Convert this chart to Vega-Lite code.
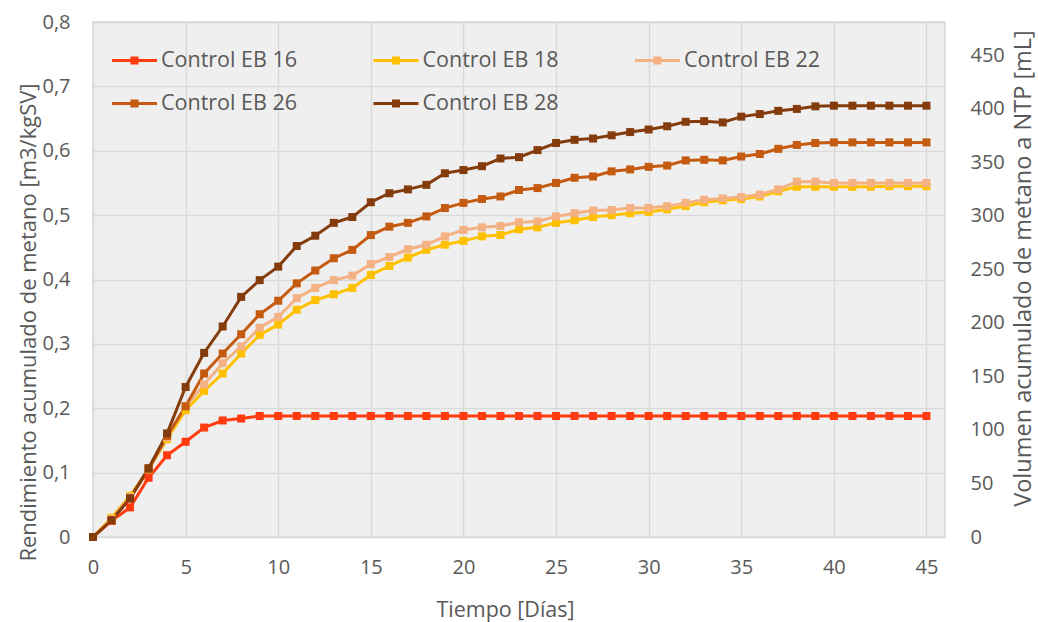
{
  "$schema": "https://vega.github.io/schema/vega-lite/v6.json",
  "width": 852,
  "height": 515,
  "autosize": {"type": "none"},
  "padding": {"left": 93, "top": 22, "right": 93, "bottom": 85},
  "background": "white",
  "config": {
    "font": "Open Sans",
    "view": {"fill": "#efefef", "stroke": "#d9d9d9", "strokeWidth": 1.5},
    "axis": {
      "labelColor": "#595959",
      "titleColor": "#595959",
      "labelFontSize": 20,
      "titleFontSize": 21.5,
      "titleFontWeight": "normal",
      "labelFlush": false,
      "domain": false,
      "ticks": false,
      "gridColor": "#d9d9d9",
      "gridWidth": 1.5
    },
    "legend": {
      "labelColor": "#595959",
      "labelFontSize": 21.5,
      "labelFont": "Open Sans"
    }
  },
  "data": {
    "values": [
      {"dia": 0, "Control EB 16": 0, "Control EB 18": 0, "Control EB 22": 0, "Control EB 26": 0, "Control EB 28": 0},
      {"dia": 1, "Control EB 16": 0.025, "Control EB 18": 0.030, "Control EB 22": 0.028, "Control EB 26": 0.026, "Control EB 28": 0.026},
      {"dia": 2, "Control EB 16": 0.046, "Control EB 18": 0.064, "Control EB 22": 0.062, "Control EB 26": 0.060, "Control EB 28": 0.060},
      {"dia": 3, "Control EB 16": 0.092, "Control EB 18": 0.105, "Control EB 22": 0.105, "Control EB 26": 0.105, "Control EB 28": 0.107},
      {"dia": 4, "Control EB 16": 0.127, "Control EB 18": 0.152, "Control EB 22": 0.155, "Control EB 26": 0.157, "Control EB 28": 0.161},
      {"dia": 5, "Control EB 16": 0.148, "Control EB 18": 0.197, "Control EB 22": 0.203, "Control EB 26": 0.203, "Control EB 28": 0.233},
      {"dia": 6, "Control EB 16": 0.170, "Control EB 18": 0.227, "Control EB 22": 0.237, "Control EB 26": 0.254, "Control EB 28": 0.286},
      {"dia": 7, "Control EB 16": 0.181, "Control EB 18": 0.254, "Control EB 22": 0.270, "Control EB 26": 0.285, "Control EB 28": 0.327},
      {"dia": 8, "Control EB 16": 0.184, "Control EB 18": 0.285, "Control EB 22": 0.296, "Control EB 26": 0.315, "Control EB 28": 0.373},
      {"dia": 9, "Control EB 16": 0.188, "Control EB 18": 0.314, "Control EB 22": 0.325, "Control EB 26": 0.346, "Control EB 28": 0.399},
      {"dia": 10, "Control EB 16": 0.188, "Control EB 18": 0.330, "Control EB 22": 0.342, "Control EB 26": 0.367, "Control EB 28": 0.420},
      {"dia": 11, "Control EB 16": 0.188, "Control EB 18": 0.353, "Control EB 22": 0.371, "Control EB 26": 0.394, "Control EB 28": 0.452},
      {"dia": 12, "Control EB 16": 0.188, "Control EB 18": 0.368, "Control EB 22": 0.387, "Control EB 26": 0.414, "Control EB 28": 0.468},
      {"dia": 13, "Control EB 16": 0.188, "Control EB 18": 0.377, "Control EB 22": 0.399, "Control EB 26": 0.433, "Control EB 28": 0.488},
      {"dia": 14, "Control EB 16": 0.188, "Control EB 18": 0.387, "Control EB 22": 0.406, "Control EB 26": 0.446, "Control EB 28": 0.497},
      {"dia": 15, "Control EB 16": 0.188, "Control EB 18": 0.407, "Control EB 22": 0.424, "Control EB 26": 0.469, "Control EB 28": 0.520},
      {"dia": 16, "Control EB 16": 0.188, "Control EB 18": 0.421, "Control EB 22": 0.435, "Control EB 26": 0.482, "Control EB 28": 0.534},
      {"dia": 17, "Control EB 16": 0.188, "Control EB 18": 0.434, "Control EB 22": 0.447, "Control EB 26": 0.488, "Control EB 28": 0.540},
      {"dia": 18, "Control EB 16": 0.188, "Control EB 18": 0.446, "Control EB 22": 0.454, "Control EB 26": 0.498, "Control EB 28": 0.547},
      {"dia": 19, "Control EB 16": 0.188, "Control EB 18": 0.454, "Control EB 22": 0.467, "Control EB 26": 0.511, "Control EB 28": 0.565},
      {"dia": 20, "Control EB 16": 0.188, "Control EB 18": 0.460, "Control EB 22": 0.477, "Control EB 26": 0.519, "Control EB 28": 0.570},
      {"dia": 21, "Control EB 16": 0.188, "Control EB 18": 0.467, "Control EB 22": 0.481, "Control EB 26": 0.525, "Control EB 28": 0.576},
      {"dia": 22, "Control EB 16": 0.188, "Control EB 18": 0.469, "Control EB 22": 0.483, "Control EB 26": 0.529, "Control EB 28": 0.588},
      {"dia": 23, "Control EB 16": 0.188, "Control EB 18": 0.478, "Control EB 22": 0.489, "Control EB 26": 0.539, "Control EB 28": 0.590},
      {"dia": 24, "Control EB 16": 0.188, "Control EB 18": 0.481, "Control EB 22": 0.490, "Control EB 26": 0.542, "Control EB 28": 0.601},
      {"dia": 25, "Control EB 16": 0.188, "Control EB 18": 0.488, "Control EB 22": 0.498, "Control EB 26": 0.550, "Control EB 28": 0.612},
      {"dia": 26, "Control EB 16": 0.188, "Control EB 18": 0.492, "Control EB 22": 0.503, "Control EB 26": 0.558, "Control EB 28": 0.617},
      {"dia": 27, "Control EB 16": 0.188, "Control EB 18": 0.497, "Control EB 22": 0.507, "Control EB 26": 0.560, "Control EB 28": 0.619},
      {"dia": 28, "Control EB 16": 0.188, "Control EB 18": 0.500, "Control EB 22": 0.508, "Control EB 26": 0.568, "Control EB 28": 0.624},
      {"dia": 29, "Control EB 16": 0.188, "Control EB 18": 0.503, "Control EB 22": 0.511, "Control EB 26": 0.571, "Control EB 28": 0.629},
      {"dia": 30, "Control EB 16": 0.188, "Control EB 18": 0.505, "Control EB 22": 0.511, "Control EB 26": 0.575, "Control EB 28": 0.633},
      {"dia": 31, "Control EB 16": 0.188, "Control EB 18": 0.509, "Control EB 22": 0.514, "Control EB 26": 0.577, "Control EB 28": 0.638},
      {"dia": 32, "Control EB 16": 0.188, "Control EB 18": 0.514, "Control EB 22": 0.519, "Control EB 26": 0.585, "Control EB 28": 0.645},
      {"dia": 33, "Control EB 16": 0.188, "Control EB 18": 0.520, "Control EB 22": 0.524, "Control EB 26": 0.586, "Control EB 28": 0.646},
      {"dia": 34, "Control EB 16": 0.188, "Control EB 18": 0.523, "Control EB 22": 0.526, "Control EB 26": 0.585, "Control EB 28": 0.644},
      {"dia": 35, "Control EB 16": 0.188, "Control EB 18": 0.525, "Control EB 22": 0.528, "Control EB 26": 0.591, "Control EB 28": 0.653},
      {"dia": 36, "Control EB 16": 0.188, "Control EB 18": 0.529, "Control EB 22": 0.532, "Control EB 26": 0.595, "Control EB 28": 0.657},
      {"dia": 37, "Control EB 16": 0.188, "Control EB 18": 0.537, "Control EB 22": 0.540, "Control EB 26": 0.603, "Control EB 28": 0.662},
      {"dia": 38, "Control EB 16": 0.188, "Control EB 18": 0.544, "Control EB 22": 0.552, "Control EB 26": 0.609, "Control EB 28": 0.665},
      {"dia": 39, "Control EB 16": 0.188, "Control EB 18": 0.544, "Control EB 22": 0.552, "Control EB 26": 0.612, "Control EB 28": 0.669},
      {"dia": 40, "Control EB 16": 0.188, "Control EB 18": 0.544, "Control EB 22": 0.550, "Control EB 26": 0.613, "Control EB 28": 0.670},
      {"dia": 41, "Control EB 16": 0.188, "Control EB 18": 0.544, "Control EB 22": 0.550, "Control EB 26": 0.613, "Control EB 28": 0.670},
      {"dia": 42, "Control EB 16": 0.188, "Control EB 18": 0.544, "Control EB 22": 0.550, "Control EB 26": 0.613, "Control EB 28": 0.670},
      {"dia": 43, "Control EB 16": 0.188, "Control EB 18": 0.545, "Control EB 22": 0.550, "Control EB 26": 0.613, "Control EB 28": 0.670},
      {"dia": 44, "Control EB 16": 0.188, "Control EB 18": 0.545, "Control EB 22": 0.550, "Control EB 26": 0.613, "Control EB 28": 0.670},
      {"dia": 45, "Control EB 16": 0.188, "Control EB 18": 0.545, "Control EB 22": 0.550, "Control EB 26": 0.613, "Control EB 28": 0.670}
    ]
  },
  "transform": [
    {"fold": ["Control EB 16", "Control EB 18", "Control EB 22", "Control EB 26", "Control EB 28"], "as": ["serie", "valor"]}
  ],
  "layer": [
    {
      "mark": {"type": "line", "strokeWidth": 3, "point": {"shape": "square", "size": 64, "filled": true}},
      "encoding": {
        "x": {
          "field": "dia",
          "type": "quantitative",
          "scale": {"domain": [0, 46], "nice": false},
          "axis": {
            "values": [0, 5, 10, 15, 20, 25, 30, 35, 40, 45],
            "grid": true,
            "title": "Tiempo [Días]",
            "labelPadding": 20,
            "titleX": 412,
            "titleY": 73,
            "titleBaseline": "middle",
            "titleAlign": "center"
          }
        },
        "y": {
          "field": "valor",
          "type": "quantitative",
          "scale": {"domain": [0, 0.8], "nice": false},
          "axis": {
            "values": [0, 0.1, 0.2, 0.3, 0.4, 0.5, 0.6, 0.7, 0.8],
            "grid": true,
            "labelExpr": "datum.value == 0 ? '0' : replace(format(datum.value, '.1f'), '.', ',')",
            "title": "Rendimiento acumulado de metano [m3/kgSV]",
            "titleFontSize": 22,
            "labelPadding": 23,
            "titleAngle": -90,
            "titleX": -65,
            "titleY": 300,
            "titleBaseline": "middle",
            "titleAlign": "center"
          }
        },
        "color": {
          "field": "serie",
          "type": "nominal",
          "scale": {
            "domain": ["Control EB 16", "Control EB 18", "Control EB 22", "Control EB 26", "Control EB 28"],
            "range": ["#FF3B0F", "#FFC000", "#F4B183", "#C55A11", "#843C0C"]
          },
          "legend": {
            "title": null,
            "orient": "none",
            "direction": "horizontal",
            "legendX": 19,
            "legendY": 16,
            "columns": 3,
            "gridAlign": "all",
            "columnPadding": 75.5,
            "rowPadding": 10,
            "padding": 0,
            "symbolType": "M-1,-0.067H1V0.067H-1Z M-0.18,-0.18H0.18V0.18H-0.18Z",
            "symbolSize": 2025,
            "symbolStrokeWidth": 0,
            "labelOffset": 4,
            "encode": {
              "symbols": {
                "update": {
                  "fill": {"scale": "color", "field": "value"},
                  "fillOpacity": {"value": 1},
                  "opacity": {"value": 1}
                }
              }
            }
          }
        }
      }
    },
    {
      "mark": {"type": "point", "opacity": 0},
      "encoding": {
        "x": {"datum": 0, "type": "quantitative"},
        "y": {
          "datum": 0,
          "type": "quantitative",
          "scale": {"domain": [0, 481], "nice": false},
          "axis": {
            "orient": "right",
            "values": [0, 50, 100, 150, 200, 250, 300, 350, 400, 450],
            "grid": false,
            "title": "Volumen acumulado de metano a NTP [mL]",
            "titleFontSize": 23.5,
            "labelPadding": 25,
            "titleAngle": -90,
            "titleX": 78,
            "titleY": 246,
            "titleBaseline": "middle",
            "titleAlign": "center"
          }
        }
      }
    }
  ],
  "resolve": {"scale": {"y": "independent"}}
}
